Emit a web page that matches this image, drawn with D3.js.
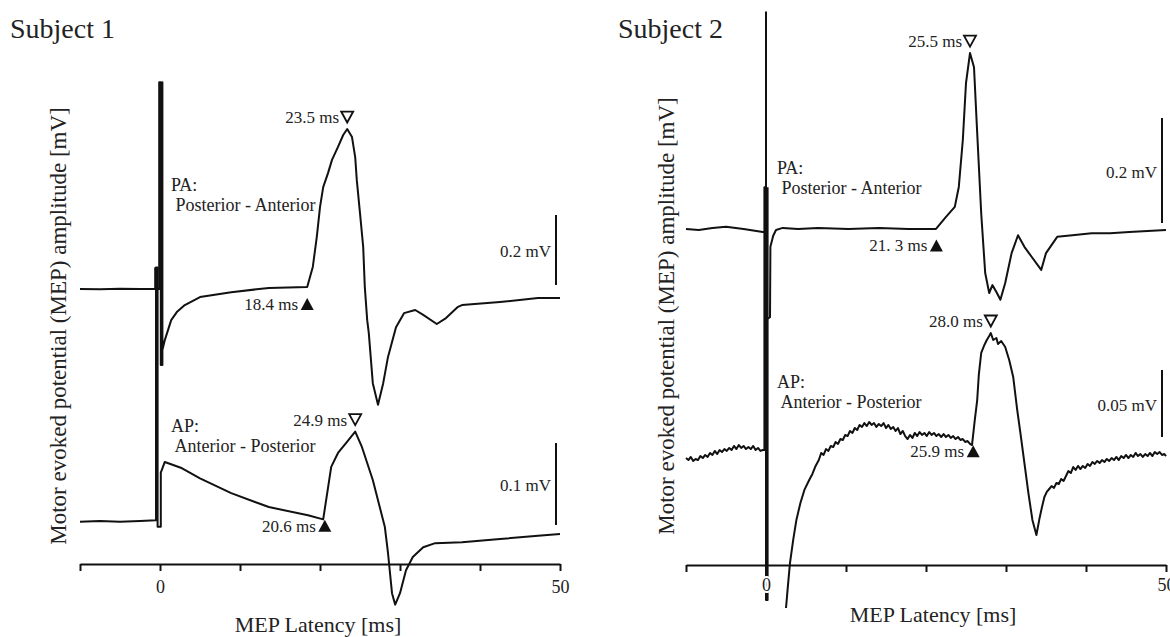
<!DOCTYPE html>
<html>
<head>
<meta charset="utf-8">
<script src="https://cdn.jsdelivr.net/npm/d3@7"></script>
<style>
  body { margin: 0; background: #fff; }
  svg { display: block; }
  svg text { font-family: "Liberation Serif", "DejaVu Serif", "Times New Roman", Times, serif; fill: #222; }
  .tick text { font-size: 18px; stroke: #fff; stroke-width: 4px; paint-order: stroke; }
</style>
</head>
<body>
<script>
var width = 1170,
    height = 637;

// latency ticks (ms), only 0 and 50 carry a label
var timeTicks = [-10, 0, 10, 20, 30, 40, 50];
var labelledTicks = [0, 50];

var subjects = ["Subject 1", "Subject 2"];
var coilNames = [["PA:", " Posterior - Anterior"], ["AP:", " Anterior - Posterior"]];

// traces as [latency ms, amplitude mV]
var s1PA = [
  [-10, 0], [-7.5, -0.001], [-5, 0.001], [-2.5, 0], [-0.6, 0], [-0.6, 0.06], [-0.45, 0],
  [-0.1, 0], [-0.1, 0.591], [0.1, 0.591], [0.1, -0.217], [0.3, -0.217], [0.3, 0.591], [0.3, -0.174],
  [0.6, -0.146], [1.4, -0.089], [2.1, -0.066], [3.1, -0.046], [5, -0.023],
  [8.9, -0.009], [13.6, 0.003], [18.4, 0.006], [19.1, 0.063], [19.6, 0.149], [20.0, 0.234],
  [20.4, 0.291], [21.0, 0.331], [21.5, 0.369], [22.25, 0.406], [22.9, 0.44], [23.4, 0.457],
  [24.0, 0.434], [24.4, 0.377], [24.6, 0.311], [25.0, 0.217], [25.4, 0.12], [25.6, 0.006],
  [25.9, -0.089], [26.1, -0.126], [26.6, -0.269], [27.25, -0.331], [27.9, -0.269], [28.5, -0.194],
  [29.5, -0.109], [30.5, -0.069], [31.9, -0.06], [32.9, -0.074], [34.6, -0.1], [35.75, -0.083],
  [37.25, -0.051], [37.75, -0.046], [42.5, -0.037], [47.25, -0.026], [50, -0.026]
];

var s1AP = [
  [-10, -0.001], [-7.5, 0], [-5, -0.001], [-2.5, 0], [-0.5, 0.001], [-0.5, 0.309], [-0.3, 0.309],
  [-0.3, -0.007], [0.1, -0.007], [0.1, 0.059], [0.6, 0.072], [2.6, 0.065], [5, 0.052], [8.9, 0.034],
  [13.6, 0.017], [18.5, 0.007], [20.4, 0.002], [20.9, 0.034], [21.4, 0.066], [22.25, 0.083],
  [23.25, 0.095], [23.75, 0.101], [24.4, 0.109], [25.25, 0.09], [26.6, 0.05], [28.1, -0.007],
  [28.5, -0.039], [29, -0.088], [29.4, -0.102], [30, -0.088], [30.75, -0.06], [31.6, -0.044],
  [32.9, -0.032], [34.4, -0.027], [37.75, -0.026], [42.5, -0.022], [47.25, -0.018], [50, -0.016]
];

var s2PA = [
  [-10, 0.002], [-8.4, 0], [-6.7, 0.004], [-5, 0.006], [-2.8, 0.002], [-0.4, -0.004], [0, -0.004],
  [0, 0.415], [0, -0.171], [0.5, -0.166], [0.55, -0.032], [0.9, -0.011], [1.25, 0], [2.1, 0.004],
  [4, 0.002], [6.5, 0.004], [10.3, 0.002], [14.1, 0.004], [17.8, 0.002], [21.25, 0.002],
  [22.5, 0.025], [23.6, 0.044], [24.1, 0.082], [24.6, 0.171], [25, 0.28], [25.5, 0.337], [26, 0.31],
  [26.4, 0.185], [26.9, 0.032], [27.4, -0.082], [27.9, -0.12], [28.3, -0.105], [28.8, -0.118],
  [29.3, -0.133], [29.9, -0.101], [30.7, -0.044], [31.5, -0.01], [32.3, -0.032], [33.2, -0.051],
  [34.4, -0.076], [35, -0.044], [36.4, -0.013], [38.3, -0.01], [40.7, -0.006], [43, -0.006],
  [45.4, -0.004], [47.7, -0.002], [50, 0]
];

// the AP recording of subject 2 is noisy, so it is read more densely
var s2AP = [
  [-10, -0.006], [-9.7, -0.0075], [-9.4, -0.0052], [-9.1, -0.0082], [-8.8, -0.0067], [-8.5, -0.0075],
  [-8.2, -0.0045], [-7.9, -0.006], [-7.6, -0.0037], [-7.3, -0.0052], [-7.0, -0.0022], [-6.7, -0.0037],
  [-6.4, -0.0007], [-6.1, -0.003], [-5.8, 0], [-5.5, -0.0015], [-5.2, 0.0007], [-4.9, -0.0007],
  [-4.6, 0.0015], [-4.3, 0], [-4.0, 0.003], [-3.7, 0.0007], [-3.4, 0.0037], [-3.1, 0.0015],
  [-2.8, 0.003], [-2.5, 0.0007], [-2.2, 0.0022], [-1.9, 0.0007], [-1.6, 0.003], [-1.3, 0],
  [-1.0, 0.0015], [-0.7, -0.0007], [-0.4, 0],
  [-0.2, 0], [-0.2, 0.196], [0, 0.196], [0, -0.112], [0.2, -0.112], [0.2, 0.196], [1.5, null],
  [2.5, -0.1179], [2.75, -0.1007], [3.0, -0.0843], [3.4, -0.0671], [3.8, -0.0522], [4.3, -0.0395],
  [4.8, -0.0298], [5.4, -0.0224], [5.8, -0.0179], [6.2, -0.0119], [6.6, -0.0075], [6.9, -0.0022],
  [7.2, -0.0037], [7.5, 0.0007], [7.8, -0.0007], [8.1, 0.003], [8.4, 0.0022], [8.7, 0.006],
  [9.0, 0.0045], [9.3, 0.0082], [9.6, 0.0075], [9.9, 0.0112], [10.2, 0.0104], [10.5, 0.0142],
  [10.8, 0.0127], [11.1, 0.0164], [11.4, 0.0149], [11.7, 0.0187], [12.0, 0.0172], [12.3, 0.0201],
  [12.6, 0.0179], [12.9, 0.0209], [13.2, 0.0187], [13.5, 0.0201], [13.8, 0.0172], [14.1, 0.0194],
  [14.4, 0.0179], [14.7, 0.0201], [15.0, 0.0164], [15.3, 0.0187], [15.6, 0.0157], [15.9, 0.0172],
  [16.2, 0.0142], [16.5, 0.0164], [16.8, 0.0119], [17.1, 0.0142], [17.4, 0.0104], [17.7, 0.0082],
  [18.0, 0.0112], [18.3, 0.009], [18.6, 0.0127], [18.9, 0.0104], [19.2, 0.0134], [19.5, 0.0112],
  [19.8, 0.0127], [20.1, 0.0104], [20.4, 0.0134], [20.7, 0.0112], [21.0, 0.0127], [21.3, 0.0104],
  [21.6, 0.0119], [21.9, 0.0097], [22.2, 0.0119], [22.5, 0.0097], [22.8, 0.0112], [23.1, 0.009],
  [23.4, 0.0104], [23.7, 0.0082], [24.0, 0.0097], [24.3, 0.0075], [24.6, 0.0082], [24.9, 0.006],
  [25.2, 0.0067], [25.5, 0.0045], [25.75, 0.0037],
  [26.1, 0.0224], [26.4, 0.0373], [26.6, 0.056], [26.9, 0.0724], [27.3, 0.0784], [27.6, 0.0821],
  [27.9, 0.0851], [28.1, 0.0873], [28.4, 0.0821], [28.8, 0.0836], [29, 0.0791], [29.4, 0.0813],
  [29.9, 0.0769], [30.4, 0.0672], [30.9, 0.0545], [31.4, 0.0299], [31.8, 0.0127], [32.3, -0.0097],
  [32.8, -0.0321], [33.3, -0.0522], [33.8, -0.0634],
  [34.2, -0.0507], [34.5, -0.0425], [34.8, -0.0351], [35.1, -0.0313], [35.4, -0.0291], [35.7, -0.0269],
  [36.0, -0.0283], [36.3, -0.0246], [36.6, -0.0254], [36.9, -0.0216], [37.2, -0.0231], [37.5, -0.0194],
  [37.8, -0.0157], [38.1, -0.0172], [38.4, -0.0127], [38.7, -0.0149], [39.0, -0.0119], [39.3, -0.0142],
  [39.6, -0.0119], [39.9, -0.0134], [40.2, -0.0104], [40.5, -0.0119], [40.8, -0.009], [41.1, -0.0104],
  [41.4, -0.0082], [41.7, -0.0097], [42.0, -0.0075], [42.3, -0.009], [42.6, -0.0067], [42.9, -0.0082],
  [43.2, -0.006], [43.5, -0.0075], [43.8, -0.0052], [44.1, -0.0075], [44.4, -0.0045], [44.7, -0.006],
  [45.0, -0.0037], [45.3, -0.006], [45.6, -0.0037], [45.9, -0.0052], [46.2, -0.0022], [46.5, -0.0045],
  [46.8, -0.003], [47.1, -0.0052], [47.4, -0.003], [47.7, -0.0045], [48.0, -0.0022], [48.3, -0.0045],
  [48.6, -0.0015], [48.9, -0.003], [49.2, -0.0015], [49.5, -0.0037], [49.8, -0.003], [50, -0.0045]
];

var onsetTimes = [18.4, 20.6, 21.3, 25.9];
var onsetLabels = ["18.4 ms", "20.6 ms", "21. 3 ms", "25.9 ms"];
var peakLabels = ["23.5 ms", "24.9 ms", "25.5 ms", "28.0 ms"];
var barValues = [0.2, 0.1, 0.2, 0.05];
var barLabels = ["0.2 mV", "0.1 mV", "0.2 mV", "0.05 mV"];

// layout
var panels = [
  {left: 80, right: 560, axisY: 564, titleX: 10, yLabelX: 66, yLabelY: 326, xLabelX: 318, xLabelY: 632, tickPad: 9},
  {left: 686, right: 1166, axisY: 565, titleX: 618, yLabelX: 674, yLabelY: 316, xLabelX: 933, xLabelY: 622, tickPad: 6}
];
var traces = [
  {data: s1PA, panel: 0, coil: 0, baseline: 289, barPx: 70, barX: 556, barBottom: 285, nameY: 191},
  {data: s1AP, panel: 0, coil: 1, baseline: 521, barPx: 82, barX: 556, barBottom: 525, nameY: 432},
  {data: s2PA, panel: 1, coil: 0, baseline: 230, barPx: 105, barX: 1162, barBottom: 223, nameY: 174},
  {data: s2AP, panel: 1, coil: 1, baseline: 450, barPx: 67, barX: 1162, barBottom: 437, nameY: 388}
];

var font = "'Liberation Serif', 'DejaVu Serif', serif";

var svg = d3.select("body").append("svg")
  .attr("width", width)
  .attr("height", height)
  .attr("font-family", font);

panels.forEach(function(p, i) {
  p.x = d3.scaleLinear().domain([-10, 50]).range([p.left, p.right]);

  svg.append("text")
    .attr("x", p.titleX)
    .attr("y", 38)
    .style("font-size", "28px")
    .text(subjects[i]);

  svg.append("text")
    .attr("transform", "translate(" + p.yLabelX + "," + p.yLabelY + ") rotate(-90)")
    .attr("text-anchor", "middle")
    .style("font-size", "23px")
    .text("Motor evoked potential (MEP) amplitude [mV]");

  svg.append("text")
    .attr("x", p.xLabelX)
    .attr("y", p.xLabelY)
    .attr("text-anchor", "middle")
    .style("font-size", "22px")
    .text("MEP Latency [ms]");
});

function valueAt(data, t) {
  var rows = data.filter(function(d) { return d[1] !== null && d[0] > 5; });
  var i = d3.bisector(function(d) { return d[0]; }).left(rows, t);
  var a = rows[Math.max(0, i - 1)], b = rows[Math.min(rows.length - 1, i)];
  if (a[0] === b[0]) return a[1];
  return a[1] + (b[1] - a[1]) * (t - a[0]) / (b[0] - a[0]);
}

traces.forEach(function(tr, i) {
  var p = panels[tr.panel];
  var x = p.x;
  // each trace has its own amplitude scale, given by its scale bar
  var y = d3.scaleLinear().domain([0, barValues[i]]).range([tr.baseline, tr.baseline - tr.barPx]);

  var line = d3.line()
    .defined(function(d) { return d[1] !== null; })
    .x(function(d) { return x(d[0]); })
    .y(function(d) { return y(d[1]); });

  svg.append("path")
    .datum(tr.data)
    .attr("d", line)
    .attr("fill", "none")
    .attr("stroke", "#111")
    .attr("stroke-width", 2)
    .attr("stroke-linejoin", "round");

  // coil orientation label
  var nameX = x(0) + 11;
  svg.append("text").attr("x", nameX).attr("y", tr.nameY)
    .style("font-size", "18px").text(coilNames[tr.coil][0]);
  svg.append("text").attr("x", nameX).attr("y", tr.nameY + 20)
    .style("font-size", "18px").style("white-space", "pre")
    .text(coilNames[tr.coil][1]);

  // scale bar
  var barTop = tr.barBottom - (y(0) - y(barValues[i]));
  svg.append("line")
    .attr("x1", tr.barX).attr("x2", tr.barX)
    .attr("y1", tr.barBottom).attr("y2", barTop)
    .attr("stroke", "#111").attr("stroke-width", 2);
  svg.append("text")
    .attr("x", tr.barX - 5)
    .attr("y", (tr.barBottom + barTop) / 2 + 7)
    .attr("text-anchor", "end")
    .style("font-size", "17px")
    .text(barLabels[i]);

  // peak marker: open triangle over the largest deflection
  var late = tr.data.filter(function(d) { return d[1] !== null && d[0] > 5; });
  var peak = late[d3.greatestIndex(late, function(d) { return d[1]; })];
  var px = x(peak[0]), py = y(peak[1]) - 12;
  svg.append("path")
    .attr("d", "M" + (px - 6) + "," + (py - 5.5) + "H" + (px + 6) + "L" + px + "," + (py + 5.5) + "Z")
    .attr("fill", "#fff").attr("stroke", "#111").attr("stroke-width", 1.8);
  svg.append("text")
    .attr("x", px - 8).attr("y", py + 6)
    .attr("text-anchor", "end")
    .style("font-size", "17px")
    .text(peakLabels[i]);

  // onset marker: filled triangle under the trace
  var ox = x(onsetTimes[i]), oy = y(valueAt(tr.data, onsetTimes[i])) + 17;
  svg.append("path")
    .attr("d", "M" + (ox - 6.5) + "," + (oy + 6) + "H" + (ox + 6.5) + "L" + ox + "," + (oy - 6) + "Z")
    .attr("fill", "#111");
  svg.append("text")
    .attr("x", ox - 9).attr("y", oy + 6)
    .attr("text-anchor", "end")
    .style("font-size", "17px")
    .text(onsetLabels[i]);
});

panels.forEach(function(p) {
  var axis = d3.axisBottom(p.x)
    .tickValues(timeTicks)
    .tickSize(7)
    .tickSizeOuter(0)
    .tickPadding(p.tickPad)
    .tickFormat(function(d) { return labelledTicks.indexOf(d) >= 0 ? d : ""; });

  var g = svg.append("g")
    .attr("transform", "translate(0," + p.axisY + ")")
    .call(axis)
    .attr("font-family", font);
  g.selectAll("path, line").attr("stroke", "#111").attr("stroke-width", 2);
});
</script>
</body>
</html>
